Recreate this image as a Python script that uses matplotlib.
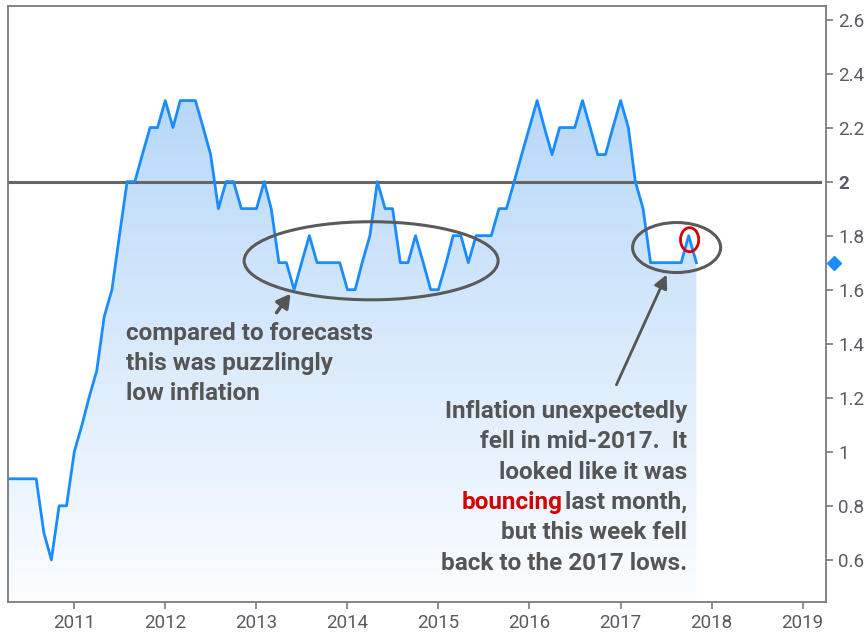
import numpy as np
import pandas as pd
import matplotlib
matplotlib.use("Agg")
import matplotlib.pyplot as plt
import matplotlib.dates as mdates
from matplotlib.patches import Ellipse, PathPatch
from matplotlib.colors import LinearSegmentedColormap

plt.rcParams["font.family"] = ["Roboto", "DejaVu Sans"]

# monthly inflation, Apr 2010 .. Nov 2017
cpi = [0.9, 0.9, 0.9, 0.9, 0.9, 0.7, 0.6, 0.8, 0.8,
       1.0, 1.1, 1.2, 1.3, 1.5, 1.6, 1.8, 2.0, 2.0, 2.1, 2.2, 2.2,
       2.3, 2.2, 2.3, 2.3, 2.3, 2.2, 2.1, 1.9, 2.0, 2.0, 1.9, 1.9,
       1.9, 2.0, 1.9, 1.7, 1.7, 1.6, 1.7, 1.8, 1.7, 1.7, 1.7, 1.7,
       1.6, 1.6, 1.7, 1.8, 2.0, 1.9, 1.9, 1.7, 1.7, 1.8, 1.7, 1.6,
       1.6, 1.7, 1.8, 1.8, 1.7, 1.8, 1.8, 1.8, 1.9, 1.9, 2.0, 2.1,
       2.2, 2.3, 2.2, 2.1, 2.2, 2.2, 2.2, 2.3, 2.2, 2.1, 2.1, 2.2,
       2.3, 2.2, 2.0, 1.9, 1.7, 1.7, 1.7, 1.7, 1.7, 1.8, 1.7]
dates = pd.date_range("2010-04-01", periods=len(cpi), freq="MS")

years = list(range(2011, 2020))
yticks = [0.6, 0.8, 1.0, 1.2, 1.4, 1.6, 1.8, 2.0, 2.2, 2.4, 2.6]
target = 2.0

text_grey = "#555555"
line_blue = "#1a8cff"

fig = plt.figure(figsize=(8.68, 6.37), dpi=100)
ax = fig.add_axes([8 / 868, 1 - 602 / 637, 818 / 868, 596 / 637])

x = mdates.date2num(dates)
y = np.array(cpi)
x0 = mdates.date2num(pd.Timestamp("2010-04-10"))
x1 = mdates.date2num(pd.Timestamp("2019-04-05"))
ylo, yhi = 0.444, 2.65
ax.set_xlim(x0, x1)
ax.set_ylim(ylo, yhi)

# gradient fill under the line
poly = ax.fill_between(x, y, ylo, color="none", lw=0)
cmap = LinearSegmentedColormap.from_list("fill", ["#fbfdff", "#b6d7f8"])
grad = np.linspace(1, 0, 256).reshape(-1, 1)
im = ax.imshow(grad, cmap=cmap, extent=[x[0], x[-1], ylo, 2.35],
               aspect="auto", origin="upper", zorder=1)
clip = PathPatch(poly.get_paths()[0], transform=ax.transData, fc="none", ec="none")
ax.add_patch(clip)
im.set_clip_path(clip)

ax.plot(x, y, color=line_blue, lw=2.0, zorder=3)
ax.axhline(target, xmax=0.9927, color="#666666", lw=2.2, zorder=2)

# last value marker on the axis
ax.plot(mdates.date2num(pd.Timestamp("2019-05-08")), cpi[-1], marker="D",
        ms=7, color=line_blue, clip_on=False, zorder=5)

# annotations
def yr(v):
    return mdates.date2num(pd.Timestamp(year=int(v), month=1, day=1)) + (v % 1) * 365.25

ax.add_patch(Ellipse((yr(2014.26), 1.707), 2.79 * 365.25, 0.289,
                     fill=False, ec="#5a5a5a", lw=2.2, zorder=4))
ax.add_patch(Ellipse((yr(2017.615), 1.756), 0.967 * 365.25, 0.185,
                     fill=False, ec="#5a5a5a", lw=2.2, zorder=4))
ax.add_patch(Ellipse((yr(2017.758), 1.785), 0.2 * 365.25, 0.089,
                     fill=False, ec="#d40000", lw=2.0, zorder=4))

ax.annotate("", xy=(yr(2013.374), 1.585), xytext=(yr(2013.22), 1.515),
            arrowprops=dict(arrowstyle="-|>,head_length=0.8,head_width=0.45",
                            color="#555555", lw=2.5, shrinkA=0, shrinkB=0))
ax.annotate("", xy=(yr(2017.505), 1.656), xytext=(yr(2016.956), 1.248),
            arrowprops=dict(arrowstyle="-|>,head_length=0.8,head_width=0.4",
                            color="#555555", lw=2.0, shrinkA=0, shrinkB=0))

fs = 17.5
lines1 = ["compared to forecasts", "this was puzzlingly", "low inflation"]
for i, s in enumerate(lines1):
    ax.annotate(s, xy=(yr(2011.57), 2 - (340 - 182) / 270), xytext=(0, -i * 21.6),
                textcoords="offset points", ha="left", va="baseline",
                fontsize=fs, fontweight="bold", color=text_grey, zorder=6)

lines2 = ["Inflation unexpectedly", "fell in mid-2017.  It", "looked like it was",
          "last month,", "but this week fell", "back to the 2017 lows."]
anchor = (yr(2017.73), 2 - (418 - 182) / 270)
for i, s in enumerate(lines2):
    t = ax.annotate(s, xy=anchor, xytext=(0, -i * 21.9), textcoords="offset points",
                    ha="right", va="baseline", fontsize=fs, fontweight="bold",
                    color=text_grey, zorder=6)
    if i == 3:
        ax.annotate("bouncing", xy=(0, 0), xycoords=t, xytext=(-2, 0),
                    textcoords="offset points", ha="right", va="bottom",
                    fontsize=fs, fontweight="bold", color="#d40000", zorder=6)

# axes styling
for sp in ax.spines.values():
    sp.set_color("#7a7a7a")
    sp.set_linewidth(1.3)
ax.xaxis.set_major_locator(mdates.YearLocator())
ax.xaxis.set_major_formatter(mdates.DateFormatter("%Y"))
ax.yaxis.tick_right()
ax.set_yticks(yticks)
ax.set_yticklabels(["%g" % v for v in yticks])
ax.tick_params(axis="both", direction="out", length=5, width=1.2, color="#7a7a7a",
               labelsize=13.5, labelcolor="#5a5a66")
ax.tick_params(axis="y", pad=4)
ax.tick_params(axis="x", pad=4)
for lab in ax.get_yticklabels():
    if lab.get_text() == "2":
        lab.set_fontweight("bold")

fig.savefig("out.png", dpi=100)
